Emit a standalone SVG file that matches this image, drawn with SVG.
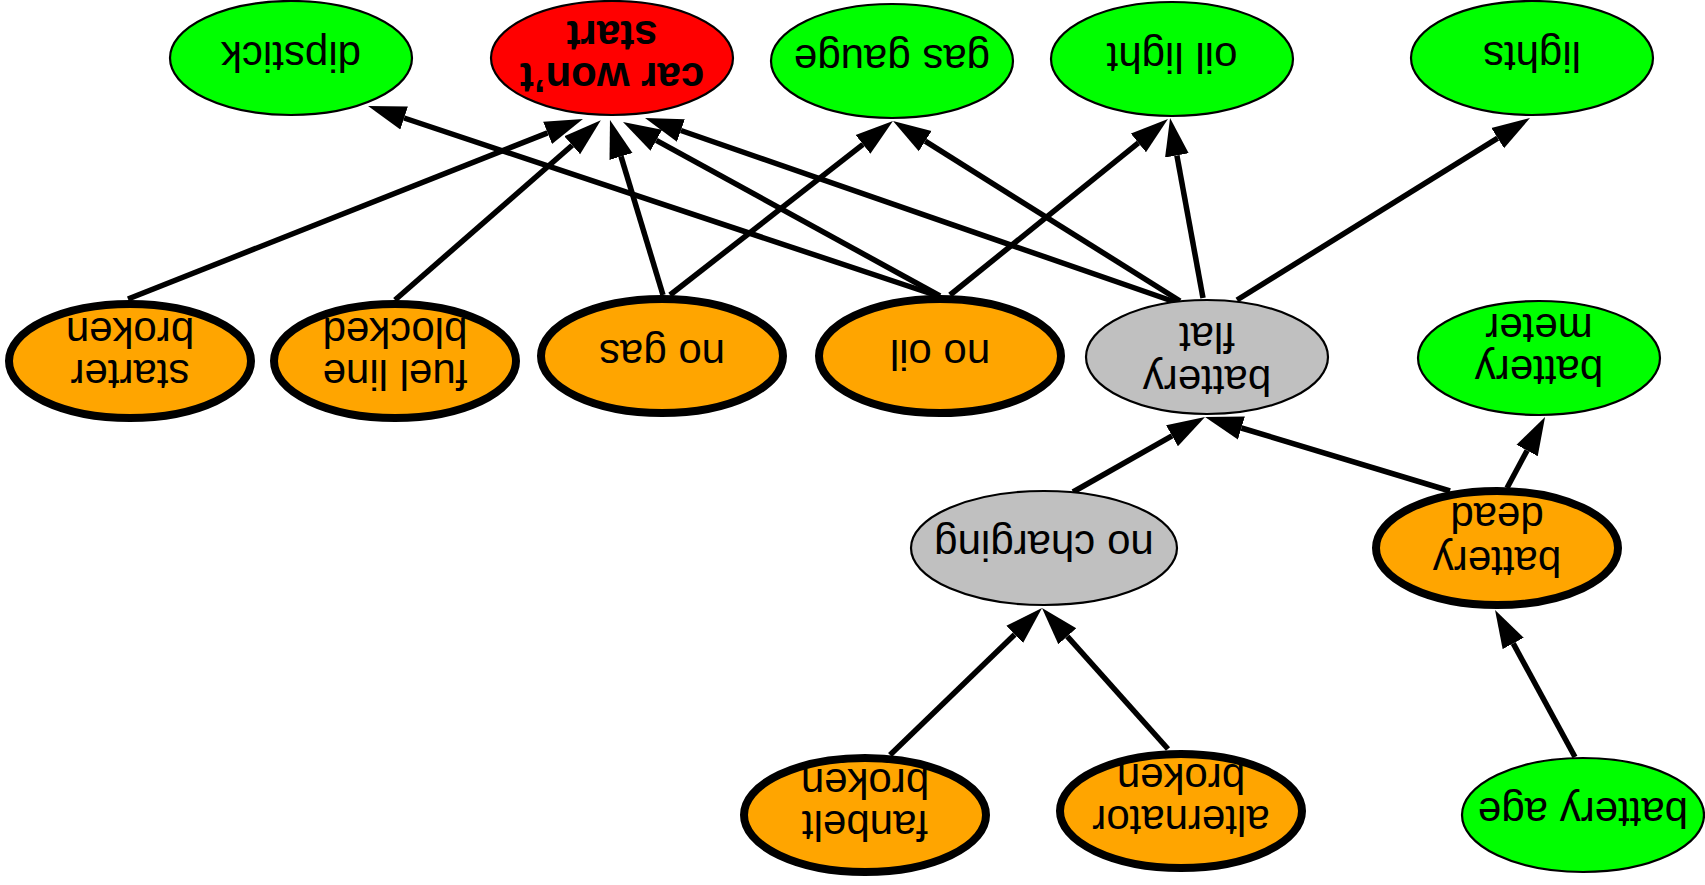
<svg xmlns="http://www.w3.org/2000/svg" width="1705" height="885" viewBox="0 0 1705 885">
  <defs>
    <marker id="arrow" viewBox="0 0 38 26" markerWidth="38" markerHeight="26" refX="0" refY="13" orient="auto" markerUnits="userSpaceOnUse">
      <path d="M0,1 L38,13 L0,25 z" fill="#000"/>
    </marker>
    <style>
      .edge { stroke: #000; stroke-width: 5.5; fill: none; marker-end: url(#arrow); }
      ellipse { stroke: #000; stroke-width: 2.2; }
      .cause ellipse { stroke-width: 8; fill: #ffa500; }
      .obs ellipse { fill: #00ff00; }
      .mid ellipse { fill: #c0c0c0; }
      .goal ellipse { fill: #ff0000; }
      text { font-family: "Liberation Sans", Arial, sans-serif; font-size: 42px; text-anchor: middle; fill: #000; }
      .goal text { font-weight: bold; }
    </style>
  </defs>
  <rect width="1705" height="885" fill="#fff"/>

  <!-- connectors: each line stops at the base of its arrowhead -->
  <g id="edges">
    <line class="edge" x1="128" y1="299" x2="547.6" y2="132.9"/>
    <line class="edge" x1="395" y1="300" x2="572.2" y2="145.2"/>
    <line class="edge" x1="663" y1="295" x2="621.0" y2="156.4"/>
    <line class="edge" x1="670" y1="295" x2="863.0" y2="144.4"/>
    <line class="edge" x1="940" y1="296" x2="656.3" y2="140.3"/>
    <line class="edge" x1="938" y1="296" x2="404.1" y2="118.0"/>
    <line class="edge" x1="950" y1="295" x2="1138.4" y2="142.9"/>
    <line class="edge" x1="1175" y1="302" x2="680.9" y2="130.5"/>
    <line class="edge" x1="1180" y1="301" x2="925.2" y2="141.2"/>
    <line class="edge" x1="1203" y1="298" x2="1176.9" y2="155.4"/>
    <line class="edge" x1="1237" y1="300" x2="1497.7" y2="138.1"/>
    <line class="edge" x1="1073" y1="492" x2="1172.0" y2="435.8"/>
    <line class="edge" x1="1450" y1="491" x2="1241.4" y2="428.0"/>
    <line class="edge" x1="1507" y1="488" x2="1527.1" y2="450.5"/>
    <line class="edge" x1="890" y1="755" x2="1014.7" y2="634.4"/>
    <line class="edge" x1="1168" y1="749" x2="1067.3" y2="636.3"/>
    <line class="edge" x1="1575" y1="757" x2="1513.2" y2="643.4"/>
  </g>

  <!-- nodes (labels are drawn turned half a revolution) -->
  <g id="dipstick" class="obs">
    <ellipse cx="291" cy="58" rx="121" ry="57"/>
    <text transform="translate(291,58) rotate(180)" y="16">dipstick</text>
  </g>
  <g id="car_wont_start" class="goal">
    <ellipse cx="612" cy="58" rx="121" ry="57"/>
    <g transform="translate(612,58) rotate(180)"><text y="-5">car won’t</text><text y="37">start</text></g>
  </g>
  <g id="gas_gauge" class="obs">
    <ellipse cx="892" cy="61" rx="121" ry="57"/>
    <text transform="translate(892,61) rotate(180)" y="16">gas gauge</text>
  </g>
  <g id="oil_light" class="obs">
    <ellipse cx="1172" cy="59" rx="121" ry="57"/>
    <text transform="translate(1172,59) rotate(180)" y="16">oil light</text>
  </g>
  <g id="lights" class="obs">
    <ellipse cx="1532" cy="58" rx="121" ry="57"/>
    <text transform="translate(1532,58) rotate(180)" y="16">lights</text>
  </g>
  <g id="starter_broken" class="cause">
    <ellipse cx="130" cy="361" rx="121" ry="57"/>
    <g transform="translate(130,361) rotate(180)"><text y="1">starter</text><text y="43">broken</text></g>
  </g>
  <g id="fuel_line_blocked" class="cause">
    <ellipse cx="395" cy="361" rx="121" ry="57"/>
    <g transform="translate(395,361) rotate(180)"><text y="1">fuel line</text><text y="43">blocked</text></g>
  </g>
  <g id="no_gas" class="cause">
    <ellipse cx="662" cy="356" rx="121" ry="57"/>
    <text transform="translate(662,356) rotate(180)" y="16">no gas</text>
  </g>
  <g id="no_oil" class="cause">
    <ellipse cx="940" cy="356" rx="121" ry="57"/>
    <text transform="translate(940,356) rotate(180)" y="16">no oil</text>
  </g>
  <g id="battery_flat" class="mid">
    <ellipse cx="1207" cy="357" rx="121" ry="57"/>
    <g transform="translate(1207,357) rotate(180)"><text y="-9">battery</text><text y="34">flat</text></g>
  </g>
  <g id="battery_meter" class="obs">
    <ellipse cx="1539" cy="358" rx="121" ry="57"/>
    <g transform="translate(1539,358) rotate(180)"><text y="2">battery</text><text y="44">meter</text></g>
  </g>
  <g id="no_charging" class="mid">
    <ellipse cx="1044" cy="548" rx="133" ry="57"/>
    <text transform="translate(1044,548) rotate(180)" y="17">no charging</text>
  </g>
  <g id="battery_dead" class="cause">
    <ellipse cx="1497" cy="548" rx="121" ry="57"/>
    <g transform="translate(1497,548) rotate(180)"><text y="1">battery</text><text y="45">dead</text></g>
  </g>
  <g id="fanbelt_broken" class="cause">
    <ellipse cx="865" cy="815" rx="121" ry="57"/>
    <g transform="translate(865,815) rotate(180)"><text y="4">fanbelt</text><text y="46">broken</text></g>
  </g>
  <g id="alternator_broken" class="cause">
    <ellipse cx="1181" cy="811" rx="121" ry="57"/>
    <g transform="translate(1181,811) rotate(180)"><text y="5">alternator</text><text y="47">broken</text></g>
  </g>
  <g id="battery_age" class="obs">
    <ellipse cx="1583" cy="815" rx="121" ry="57"/>
    <text transform="translate(1583,815) rotate(180)" y="17">battery age</text>
  </g>
</svg>
